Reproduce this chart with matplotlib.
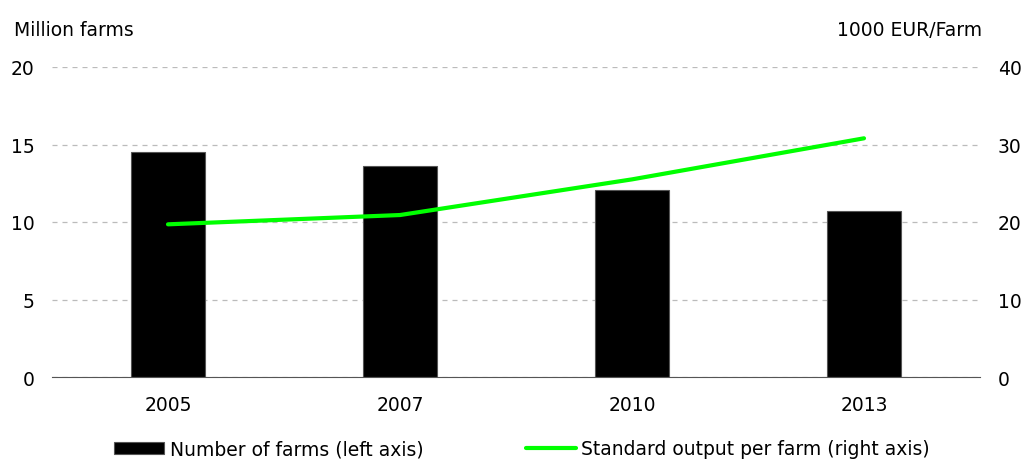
import matplotlib
matplotlib.use('Agg')
import matplotlib.pyplot as plt
import numpy as np

years = ['2005', '2007', '2010', '2013']
farms = [14.5, 13.6, 12.05, 10.7]        # million farms (left axis)
output = [19.7, 20.9, 25.5, 30.8]        # 1000 EUR/farm (right axis)

plt.rcParams['font.family'] = 'sans-serif'
plt.rcParams['font.sans-serif'] = ['DejaVu Sans']
fs = 13.5

fig = plt.figure(figsize=(10.24, 4.6), dpi=100)
ax = fig.add_axes([52/1024, 1 - 378/460, 928/1024, 310/460])
ax2 = ax.twinx()

x = np.arange(len(years))
ax.bar(x, farms, width=0.315, color='black', edgecolor='#555555', linewidth=0.8,
       label='Number of farms (left axis)', zorder=2)
ax2.plot(x, output, color='#00ff00', linewidth=3, solid_capstyle='round',
         label='Standard output per farm (right axis)', zorder=3)

ax.set_xlim(-0.5, 3.5)
ax.set_ylim(0, 20)
ax.set_yticks([0, 5, 10, 15, 20])
ax2.set_ylim(0, 40)
ax2.set_yticks([0, 10, 20, 30, 40])
ax.set_xticks(x)
ax.set_xticklabels(years)

ax.grid(axis='y', linestyle=(0, (4, 4)), color='#bbbbbb', linewidth=0.9, zorder=0)
ax.set_axisbelow(True)
for a in (ax, ax2):
    for s in a.spines.values():
        s.set_visible(False)
    a.tick_params(length=0, labelsize=fs, colors='black')
ax.spines['bottom'].set_visible(True)
ax.spines['bottom'].set_color('#555555')
ax.tick_params(axis='y', pad=12.5)
ax2.tick_params(axis='y', pad=13)
ax.tick_params(axis='x', pad=13)

fig.text(14/1024, 1 - 30/460, 'Million farms', fontsize=fs, va='center', ha='left')
fig.text(982/1024, 1 - 30/460, '1000 EUR/Farm', fontsize=fs, va='center', ha='right')

h1, l1 = ax.get_legend_handles_labels()
h2, l2 = ax2.get_legend_handles_labels()
fig.legend(h1 + h2, l1 + l2, loc='center', bbox_to_anchor=(0.51, 1 - 450/460),
           ncol=2, frameon=False, fontsize=fs, handlelength=2.67,
           handletextpad=0.27, columnspacing=5.5, handleheight=0.55)

plt.savefig('out.png', dpi=100)
plt.close()
